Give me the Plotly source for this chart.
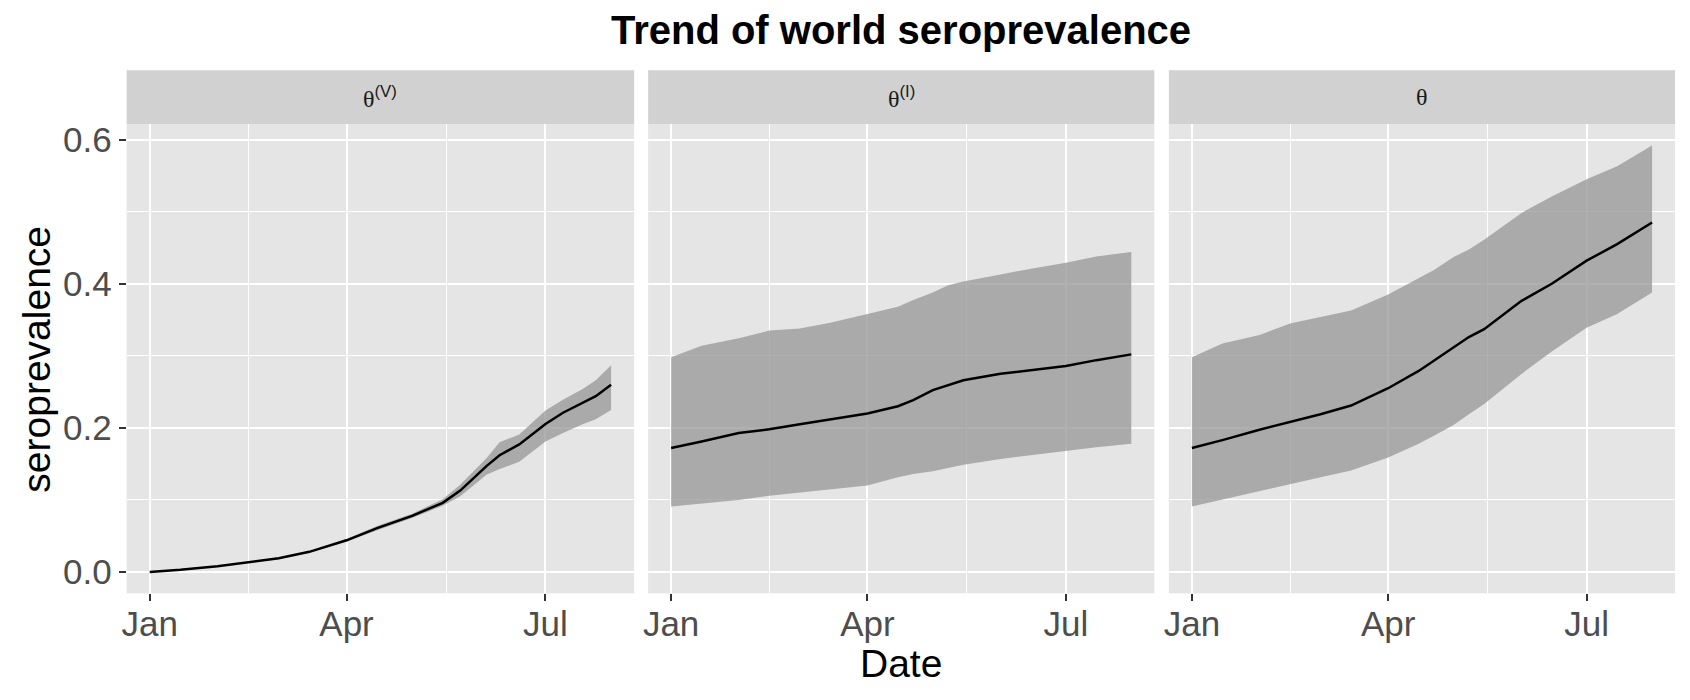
import pandas as pd
import plotly.graph_objects as go
from plotly.subplots import make_subplots

# theta^(V): vaccine-induced seroprevalence
dates_v = ["2021-01-01", "2021-01-15", "2021-02-01", "2021-02-15", "2021-03-01",
           "2021-03-15", "2021-04-01", "2021-04-15", "2021-05-01", "2021-05-15",
           "2021-05-23", "2021-06-04", "2021-06-10", "2021-06-19", "2021-07-01",
           "2021-07-09", "2021-07-18", "2021-07-24", "2021-07-31"]
mean_v = [0.000, 0.003, 0.008, 0.013, 0.019, 0.028, 0.044, 0.061, 0.078, 0.096,
          0.113, 0.147, 0.162, 0.177, 0.2055, 0.221, 0.235, 0.244, 0.260]
upper_v = [0.000, 0.003, 0.008, 0.013, 0.020, 0.029, 0.046, 0.064, 0.081, 0.101,
           0.121, 0.158, 0.180, 0.191, 0.224, 0.239, 0.254, 0.266, 0.287]
lower_v = [0.000, 0.003, 0.008, 0.013, 0.018, 0.027, 0.042, 0.058, 0.075, 0.092,
           0.105, 0.135, 0.143, 0.153, 0.181, 0.193, 0.205, 0.212, 0.225]

# theta^(I) and theta share the same dates
dates = ["2021-01-01", "2021-01-15", "2021-02-01", "2021-02-15", "2021-03-01",
         "2021-03-15", "2021-04-01", "2021-04-15", "2021-04-22", "2021-05-01",
         "2021-05-08", "2021-05-15", "2021-06-01", "2021-06-15", "2021-07-01",
         "2021-07-15", "2021-07-31"]

# theta^(I): infection-induced
mean_i = [0.172, 0.181, 0.193, 0.198, 0.205, 0.212, 0.220, 0.230, 0.2386, 0.2524,
          0.259, 0.266, 0.275, 0.280, 0.286, 0.294, 0.302]
upper_i = [0.298, 0.314, 0.3245, 0.335, 0.338, 0.346, 0.358, 0.368, 0.3775, 0.388,
           0.398, 0.403, 0.413, 0.421, 0.429, 0.438, 0.444]
lower_i = [0.091, 0.0955, 0.100, 0.106, 0.111, 0.1145, 0.120, 0.1315, 0.136, 0.140,
           0.145, 0.149, 0.157, 0.1625, 0.168, 0.173, 0.178]

# theta: overall
mean_t = [0.172, 0.183, 0.1975, 0.208, 0.219, 0.231, 0.255, 0.279, 0.293, 0.3115,
          0.326, 0.337, 0.376, 0.400, 0.432, 0.455, 0.485]
upper_t = [0.298, 0.317, 0.329, 0.345, 0.354, 0.363, 0.385, 0.408, 0.419, 0.437,
           0.4476, 0.461, 0.498, 0.521, 0.545, 0.563, 0.592]
lower_t = [0.091, 0.1006, 0.112, 0.122, 0.1315, 0.141, 0.159, 0.178, 0.189, 0.204,
           0.219, 0.233, 0.2745, 0.306, 0.339, 0.358, 0.388]

SUP = "<sup><span style='font-family:Liberation Sans, Arial, sans-serif'>{}</span></sup>"
panel_labels = ["θ" + SUP.format("(V)"), "θ" + SUP.format("(I)"), "θ"]
x_ticks = ["2021-01-01", "2021-04-01", "2021-07-01"]
x_tick_labels = ["Jan", "Apr", "Jul"]
x_minor = ["2021-02-15", "2021-05-16 12:00"]
y_ticks = [0.0, 0.2, 0.4, 0.6]
y_tick_labels = ["0.0", "0.2", "0.4", "0.6"]
y_minor = [0.1, 0.3, 0.5]

W, H = 1690, 700
OFF = 8  # page body margin in the screenshot
PANEL_BG = "#E5E5E5"
STRIP_BG = "#D1D1D1"
RIBBON = "rgba(150,150,150,0.75)"
SANS = "Liberation Sans, Arial, sans-serif"
TICK_FONT = dict(family=SANS, size=35, color="#4D4D4D")


def fx(px):
    return (px - OFF) / W


def fy(py):
    return 1 - (py - OFF) / H


# panel edges in screen pixels
x_dom = [(122, 631), (645, 1152.7), (1167.3, 1675)]
top_px, bottom_px, strip_top_px = 120.7, 592.7, 66.5

fig = make_subplots(rows=1, cols=3, shared_yaxes=True)

panels = [(dates_v, lower_v, mean_v, upper_v),
          (dates, lower_i, mean_i, upper_i),
          (dates, lower_t, mean_t, upper_t)]
for i, (d, lo, mid, hi) in enumerate(panels, start=1):
    fig.add_trace(go.Scatter(x=list(d) + list(d)[::-1], y=list(hi) + list(lo)[::-1],
                             mode="lines", line=dict(width=0), fill="toself",
                             fillcolor=RIBBON, showlegend=False, hoverinfo="skip"),
                  row=1, col=i)
    fig.add_trace(go.Scatter(x=d, y=mid, mode="lines",
                             line=dict(color="black", width=2.5), showlegend=False),
                  row=1, col=i)

# ggplot-like 5% expansion
start = pd.Timestamp(dates[0])
end = pd.Timestamp(dates[-1])
pad = (end - start) * 0.05
x_range = [start - pad, end + pad]
y_lo = min(lower_v + lower_i + lower_t)
y_hi = max(upper_v + upper_i + upper_t)
y_pad = (y_hi - y_lo) * 0.05
y_range = [y_lo - y_pad, y_hi + y_pad]

for i, (x0, x1) in enumerate(x_dom, start=1):
    fig.update_xaxes(type="date", range=x_range, domain=[fx(x0), fx(x1)],
                     tickmode="array", tickvals=x_ticks, ticktext=x_tick_labels,
                     showgrid=True, gridcolor="white", gridwidth=2.3,
                     ticks="outside", ticklen=7, tickwidth=1.6, tickcolor="#333333",
                     tickfont=TICK_FONT, ticklabelstandoff=-7,
                     zeroline=False, showline=False,
                     minor=dict(tickmode="array", tickvals=x_minor, showgrid=True,
                                gridcolor="white", gridwidth=1.2, ticks=""),
                     row=1, col=i)
    fig.update_yaxes(range=y_range, domain=[fy(bottom_px), fy(top_px)],
                     tickmode="array", tickvals=y_ticks, ticktext=y_tick_labels,
                     showgrid=True, gridcolor="white", gridwidth=2.3,
                     zeroline=False, showline=False,
                     minor=dict(tickmode="array", tickvals=y_minor,
                                showgrid=True, gridcolor="white", gridwidth=1.2, ticks=""),
                     row=1, col=i)
    # facet strip
    fig.add_shape(type="rect", xref="paper", yref="paper",
                  x0=fx(x0), x1=fx(x1), y0=fy(top_px), y1=fy(strip_top_px),
                  fillcolor=STRIP_BG, line=dict(width=0), layer="below")
    fig.add_annotation(text=panel_labels[i - 1], xref="paper", yref="paper",
                       x=fx((x0 + x1) / 2), y=fy((top_px + strip_top_px) / 2),
                       xanchor="center", yanchor="middle", showarrow=False,
                       font=dict(family="Liberation Serif, DejaVu Serif, serif",
                                 size=24, color="#1A1A1A"))

fig.update_yaxes(ticks="outside", ticklen=7, tickwidth=1.6, tickcolor="#333333",
                 tickfont=TICK_FONT, row=1, col=1)
fig.update_yaxes(showticklabels=False, ticks="", row=1, col=2)
fig.update_yaxes(showticklabels=False, ticks="", row=1, col=3)

fig.add_annotation(text="seroprevalence", xref="paper", yref="paper",
                   x=fx(32), y=fy((top_px + bottom_px) / 2), textangle=-90,
                   xanchor="center", yanchor="middle", showarrow=False,
                   font=dict(family=SANS, size=39, color="black"))
fig.add_annotation(text="Date", xref="paper", yref="paper",
                   x=fx((x_dom[1][0] + x_dom[1][1]) / 2), y=fy(663),
                   xanchor="center", yanchor="middle", showarrow=False,
                   font=dict(family=SANS, size=39, color="black"))

fig.update_layout(
    width=W, height=H,
    margin=dict(l=0, r=0, t=0, b=0),
    paper_bgcolor="white", plot_bgcolor=PANEL_BG,
    title=dict(text="<b>Trend of world seroprevalence</b>", x=fx(901), xanchor="center",
               y=fy(30), yanchor="middle",
               font=dict(family=SANS, size=40, color="black")),
    showlegend=False,
)

fig.write_html("out.html")
